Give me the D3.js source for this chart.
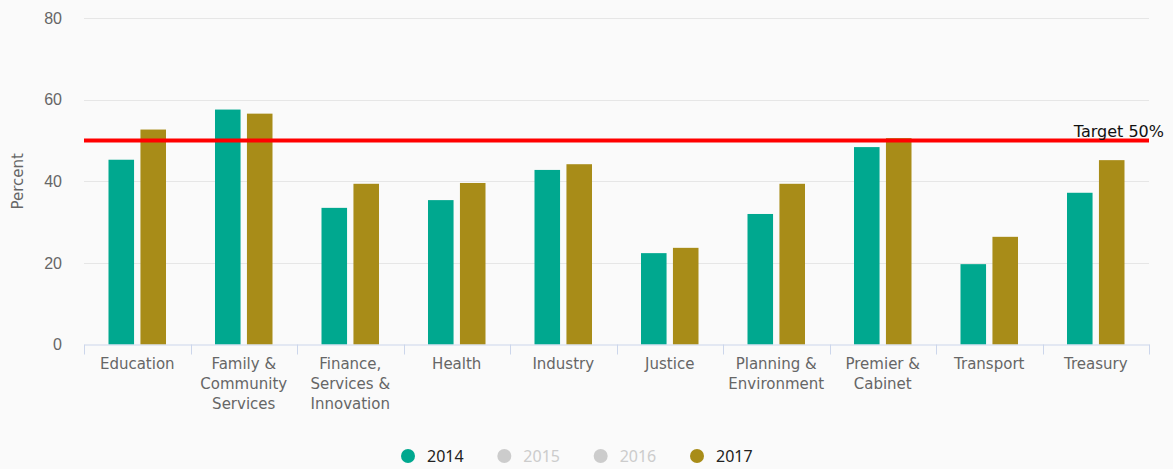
<!DOCTYPE html>
<html>
<head>
<meta charset="utf-8">
<script src="https://cdn.jsdelivr.net/npm/d3@7"></script>
<style>
  html, body { margin: 0; padding: 0; background: #fafafa; }
  svg { display: block; font-family: 'DejaVu Sans', 'Lucida Grande', sans-serif; }
</style>
</head>
<body>
<div id="chart"></div>
<script>
const categories = [
  'Education',
  'Family & Community Services',
  'Finance, Services & Innovation',
  'Health',
  'Industry',
  'Justice',
  'Planning & Environment',
  'Premier & Cabinet',
  'Transport',
  'Treasury',
]

const values2014 = [45.3, 57.6, 33.5, 35.4, 42.8, 22.4, 32.0, 48.4, 19.7, 37.2]
const values2017 = [52.7, 56.6, 39.4, 39.6, 44.2, 23.7, 39.4, 50.6, 26.4, 45.2]

const legendYears = ['2014', '2015', '2016', '2017']
const hiddenYears = ['2015', '2016']
const yTicks = [0, 20, 40, 60, 80]
const target = 50

const render = () => {
  const width = 1173
  const height = 469
  const margin = { top: 18, right: 24, bottom: 125, left: 84 }

  const colors = { 2014: '#00a88f', 2017: '#a88c18' }

  const svg = d3
    .select('#chart')
    .append('svg')
    .attr('width', width)
    .attr('height', height)

  const xScale = d3
    .scaleBand()
    .domain(categories)
    .range([margin.left, width - margin.right])

  const bw = xScale.bandwidth()
  const x1 = d3
    .scaleBand()
    .domain(['2014', '2017'])
    .range([bw * 0.2, bw * 0.8])
    .paddingInner(0.2)
    .paddingOuter(0.1)

  const yScale = d3
    .scaleLinear()
    .domain([0, 80])
    .range([344.5, 18.2])

  // grid
  svg
    .append('g')
    .selectAll('line')
    .data(yTicks.slice(1))
    .enter()
    .append('line')
    .attr('x1', margin.left)
    .attr('x2', width - margin.right)
    .attr('y1', (d) => Math.round(yScale(d)) + 0.5)
    .attr('y2', (d) => Math.round(yScale(d)) + 0.5)
    .attr('stroke', '#e6e6e6')

  // yAxis
  const yAxis = svg
    .append('g')
    .attr('transform', `translate(${margin.left}, 0)`)
    .call(d3.axisLeft(yScale).tickValues(yTicks).tickSize(0).tickPadding(22))
  yAxis.select('.domain').remove()
  yAxis
    .selectAll('text')
    .attr('fill', '#666')
    .style('font-size', '16px')

  svg
    .append('text')
    .attr('transform', `translate(23, ${yScale(40)}) rotate(-90)`)
    .attr('text-anchor', 'middle')
    .attr('fill', '#666')
    .style('font-size', '15px')
    .text('Percent')

  // bars
  const groups = svg
    .append('g')
    .selectAll('g')
    .data(categories)
    .enter()
    .append('g')
    .attr('transform', (d) => `translate(${xScale(d)}, 0)`)

  groups
    .append('rect')
    .attr('x', x1('2014'))
    .attr('width', x1.bandwidth())
    .attr('y', (d, i) => yScale(values2014[i]))
    .attr('height', (d, i) => yScale(0) - yScale(values2014[i]))
    .attr('fill', colors[2014])

  groups
    .append('rect')
    .attr('x', x1('2017'))
    .attr('width', x1.bandwidth())
    .attr('y', (d, i) => yScale(values2017[i]))
    .attr('height', (d, i) => yScale(0) - yScale(values2017[i]))
    .attr('fill', colors[2017])

  // xAxis
  const xAxis = svg
    .append('g')
    .attr('transform', `translate(0, ${Math.round(yScale(0)) - 0.5})`)
    .call(d3.axisBottom(xScale).tickSize(0).tickFormat(''))
  xAxis.select('.domain').attr('stroke', '#ccd6eb')

  const boundaries = xScale.domain().map((d) => xScale(d)).concat([xScale.range()[1]])
  xAxis
    .selectAll('.bound')
    .data(boundaries)
    .enter()
    .append('line')
    .attr('x1', (d) => Math.round(d) + 0.5)
    .attr('x2', (d) => Math.round(d) + 0.5)
    .attr('y1', 0)
    .attr('y2', 10)
    .attr('stroke', '#ccd6eb')

  const labels = svg
    .append('g')
    .selectAll('text')
    .data(categories)
    .enter()
    .append('text')
    .attr('text-anchor', 'middle')
    .attr('fill', '#666')
    .style('font-size', '15px')
    .attr('x', (d) => xScale(d) + bw / 2)
    .attr('y', 369)

  // wrap labels
  labels.each(function (d) {
    const el = d3.select(this)
    const words = d.split(' ')
    let line = []
    let tspan = el.append('tspan').attr('x', el.attr('x')).attr('dy', 0)
    words.forEach((w) => {
      line.push(w)
      tspan.text(line.join(' '))
      if (tspan.node().getComputedTextLength() > bw - 8 && line.length > 1) {
        line.pop()
        tspan.text(line.join(' '))
        line = [w]
        tspan = el.append('tspan').attr('x', el.attr('x')).attr('dy', 20).text(w)
      }
    })
  })

  // target line
  svg
    .append('line')
    .attr('x1', margin.left)
    .attr('x2', width - margin.right)
    .attr('y1', yScale(target))
    .attr('y2', yScale(target))
    .attr('stroke', '#ff0000')
    .attr('stroke-width', 4)

  svg
    .append('text')
    .attr('x', 1164)
    .attr('y', yScale(target) - 4)
    .attr('text-anchor', 'end')
    .attr('fill', '#111')
    .style('font-size', '16px')
    .text(`Target ${target}%`)

  // Legend
  const legendX = d3.scalePoint().domain(legendYears).range([408, 697])

  const legend = svg.append('g').attr('transform', 'translate(0, 456)')
  const items = legend
    .selectAll('g')
    .data(legendYears)
    .enter()
    .append('g')
    .attr('transform', (d) => `translate(${legendX(d)}, 0)`)

  items
    .append('circle')
    .attr('r', 7)
    .attr('fill', (d) => (hiddenYears.includes(d) ? '#cccccc' : colors[d]))

  items
    .append('text')
    .attr('x', 19)
    .attr('y', 6)
    .attr('fill', (d) => (hiddenYears.includes(d) ? '#cccccc' : '#222'))
    .style('font-family', "'Noto Sans', sans-serif")
    .style('font-size', '16px')
    .text((d) => d)
}

render()
</script>
</body>
</html>
